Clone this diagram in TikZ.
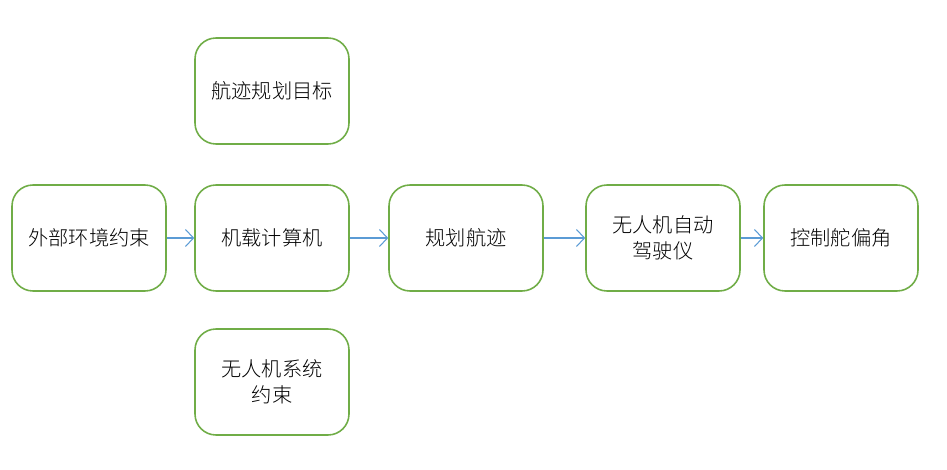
\documentclass[tikz,border=0pt]{standalone}
\usepackage{fontspec}
\usetikzlibrary{arrows.meta}
\newfontfamily\cjk{Noto Sans CJK SC Light}
\definecolor{boxgreen}{RGB}{112,173,71}
\definecolor{arrowblue}{RGB}{91,155,213}
\begin{document}
\begin{tikzpicture}[
  stagebox/.style={draw=boxgreen, line width=0.9pt, rounded corners=0.42cm,
                   minimum width=3.08cm, minimum height=2.12cm, fill=white,
                   font=\cjk\fontsize{11.5}{15}\selectfont, align=center},
  flow/.style={-{Straight Barb[length=1.6mm, width=3.4mm]}, draw=arrowblue, line width=0.6pt},
]
  \useasboundingbox (0,0) rectangle (18.94,9.38);

  % Main chain
  \node[stagebox] (env) at (1.78,4.62) {外部环境约束};
  \node[stagebox] (comp) at (5.44,4.62) {机载计算机};
  \node[stagebox] (track) at (9.32,4.62) {规划航迹};
  \node[stagebox] (pilot) at (13.26,4.62) {无人机自动\\驾驶仪};
  \node[stagebox] (rudder) at (16.82,4.62) {控制舵偏角};

  % Above and below the computer
  \node[stagebox] (goal) at (5.44,7.56) {航迹规划目标};
  \node[stagebox] (sys) at (5.44,1.74) {无人机系统\\约束};

  % Arrows
  \foreach \a/\b in {env/comp, comp/track, track/pilot, pilot/rudder}
    \draw[flow] (\a) -- (\b);
\end{tikzpicture}
\end{document}
